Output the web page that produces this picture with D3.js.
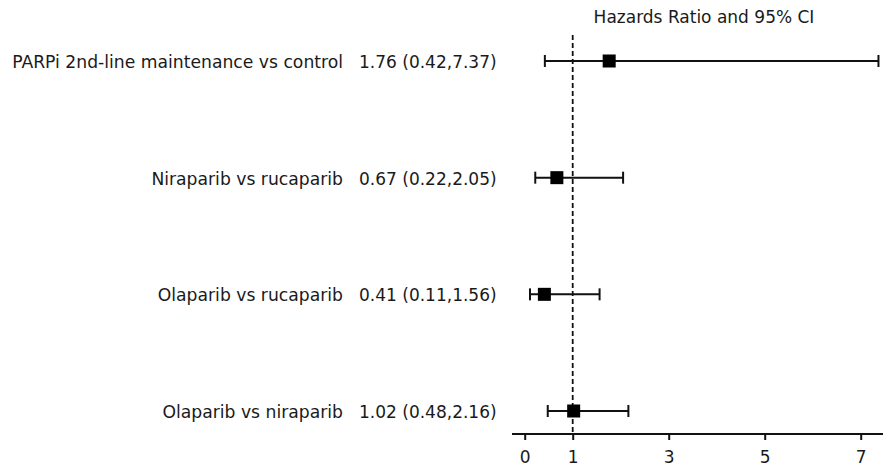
<!DOCTYPE html>
<html><head><meta charset="utf-8">
<script src="https://cdn.jsdelivr.net/npm/d3@7"></script>
<style>body{margin:0;background:#fff}svg{display:block}text{font-family:"DejaVu Sans",sans-serif;fill:#1a1a1a}</style>
</head><body>
<svg id="c" width="885" height="468"></svg>
<script>
const labels = ["PARPi 2nd-line maintenance vs control","Niraparib vs rucaparib","Olaparib vs rucaparib","Olaparib vs niraparib"];
const hr = [1.76, 0.67, 0.41, 1.02];
const lo = [0.42, 0.22, 0.11, 0.48];
const hi = [7.37, 2.05, 1.56, 2.16];
const ticks = [0, 1, 3, 5, 7];
const title = "Hazards Ratio and 95% CI";

const svg = d3.select("#c");
const x = d3.scaleLinear().domain([0, 7]).range([524.7, 860.7]);
const y = d3.scalePoint().domain(labels).range([61, 411]);
const axisY = 434;

// axis
const ax = svg.append("g").attr("transform", `translate(0,${axisY})`)
  .call(d3.axisBottom(x).tickValues(ticks).tickFormat(d3.format("d")).tickSize(6));
ax.select(".domain").remove();
ax.append("line").attr("x1", 512).attr("x2", 883).attr("stroke", "#111").attr("stroke-width", 2);
ax.selectAll(".tick line").attr("stroke", "#111").attr("stroke-width", 2);
ax.selectAll(".tick text").attr("font-size", 17).attr("fill", "#1a1a1a").attr("font-family", "DejaVu Sans")
  .attr("y", 29).attr("dy", null);

// reference line
svg.append("line").attr("x1", x(1)).attr("x2", x(1)).attr("y1", 35).attr("y2", axisY)
  .attr("stroke", "#111").attr("stroke-width", 1.8).attr("stroke-dasharray", "5,3");

// title
svg.append("text").attr("x", 704).attr("y", 23).attr("text-anchor", "middle").attr("font-size", 17).text(title);

const rows = svg.append("g").selectAll("g").data(labels).join("g")
  .attr("transform", d => `translate(0,${y(d)})`);

rows.append("text").attr("x", 343).attr("y", 7).attr("text-anchor", "end").attr("font-size", 17.2).text(d => d);
rows.append("text").attr("x", 359).attr("y", 7).attr("font-size", 17)
  .text((d, i) => `${hr[i].toFixed(2)} (${lo[i].toFixed(2)},${hi[i].toFixed(2)})`);

rows.append("line").attr("x1", (d, i) => x(lo[i])).attr("x2", (d, i) => x(hi[i]))
  .attr("stroke", "#111").attr("stroke-width", 2);
rows.append("line").attr("x1", (d, i) => x(lo[i])).attr("x2", (d, i) => x(lo[i]))
  .attr("y1", -6).attr("y2", 6).attr("stroke", "#111").attr("stroke-width", 2);
rows.append("line").attr("x1", (d, i) => x(hi[i])).attr("x2", (d, i) => x(hi[i]))
  .attr("y1", -6).attr("y2", 6).attr("stroke", "#111").attr("stroke-width", 2);
rows.append("rect").attr("x", (d, i) => x(hr[i]) - 6.5).attr("y", -6.5).attr("width", 13).attr("height", 13)
  .attr("fill", "#000");
</script>
</body></html>
